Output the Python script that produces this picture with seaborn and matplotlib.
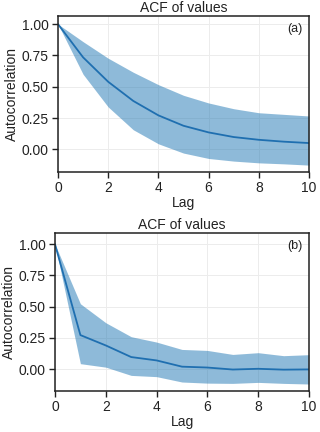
import numpy as np
import pandas as pd
import seaborn as sns
import matplotlib.pyplot as plt

LAGS = [0, 1, 2, 3, 4, 5, 6, 7, 8, 9, 10]

# panel (a)
ACF_A = [1.0, 0.735, 0.54, 0.387, 0.272, 0.189, 0.136, 0.099, 0.077, 0.062, 0.051]
UPPER_A = [1.0, 0.86, 0.728, 0.616, 0.517, 0.432, 0.371, 0.325, 0.293, 0.28, 0.267]
LOWER_A = [1.0, 0.6, 0.339, 0.157, 0.045, -0.029, -0.072, -0.093, -0.107, -0.115, -0.125]

# panel (b)
ACF_B = [1.0, 0.272, 0.189, 0.096, 0.069, 0.019, 0.012, -0.004, 0.002, -0.005, -0.003]
UPPER_B = [1.0, 0.523, 0.371, 0.259, 0.216, 0.157, 0.149, 0.117, 0.131, 0.107, 0.115]
LOWER_B = [1.0, 0.043, 0.015, -0.051, -0.061, -0.104, -0.113, -0.115, -0.107, -0.115, -0.12]

PANEL_LABELS = ["(a)", "(b)"]
TITLE = "ACF of values"

sns.set_theme(style="ticks")
plt.rcParams["font.family"] = ["Liberation Sans", "DejaVu Sans"]

fig = plt.figure(figsize=(3.2, 4.32), dpi=100)
ax_a = fig.add_axes([58 / 320, 1 - 172 / 432, 251 / 320, 156 / 432])
ax_b = fig.add_axes([55 / 320, 1 - 391 / 432, 254 / 320, 158 / 432])

panels = [
    (ax_a, ACF_A, UPPER_A, LOWER_A, (-0.18, 1.065)),
    (ax_b, ACF_B, UPPER_B, LOWER_B, (-0.176, 1.09)),
]

for (ax, acf, up, lo, ylim), lab in zip(panels, PANEL_LABELS):
    df = pd.DataFrame({"Lag": LAGS, "Autocorrelation": acf})
    ax.fill_between(LAGS, lo, up, color="#1f77b4", alpha=0.5, linewidth=0)
    sns.lineplot(data=df, x="Lag", y="Autocorrelation", ax=ax,
                 color="#1f6fb0", linewidth=1.3)
    ax.set_xlim(0, 10)
    ax.set_ylim(*ylim)
    ax.set_xticks([0, 2, 4, 6, 8, 10])
    ax.set_yticks([0.0, 0.25, 0.5, 0.75, 1.0])
    ax.set_yticklabels(["0.00", "0.25", "0.50", "0.75", "1.00"])
    ax.grid(True, color="#ececec", linewidth=0.7)
    ax.set_axisbelow(True)
    for sp in ax.spines.values():
        sp.set_linewidth(1.1)
        sp.set_color("#222222")
    ax.tick_params(axis="both", labelsize=10, length=4.5, width=1.0,
                   direction="out", color="#222222", labelcolor="#222222", pad=2)
    ax.set_xlabel("Lag", fontsize=10, labelpad=1, color="#222222")
    ax.set_ylabel("Autocorrelation", fontsize=10, labelpad=2, color="#222222")
    ax.set_title(TITLE, fontsize=10, pad=3, color="#222222")
    ax.text(0.975, 0.955, lab, transform=ax.transAxes, ha="right", va="top",
            fontsize=9, color="#222222")

fig.savefig("out.png", dpi=100)
